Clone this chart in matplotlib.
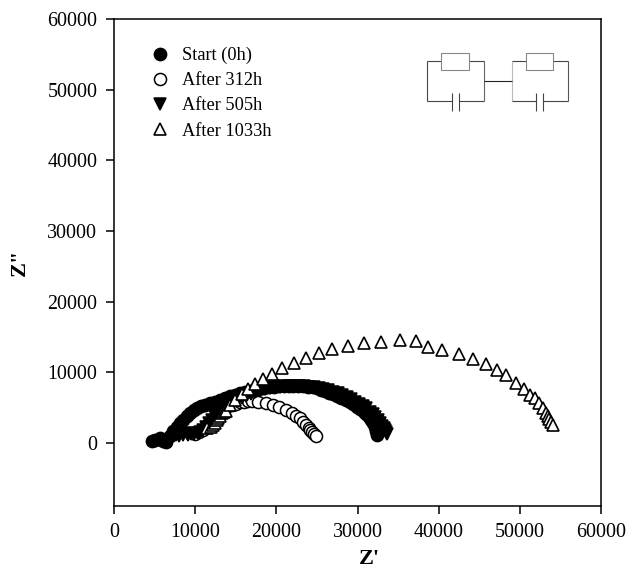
# -*- coding: utf-8 -*-
import matplotlib
matplotlib.use('Agg')
import matplotlib.pyplot as plt

plt.rcParams['font.family'] = ['Liberation Serif', 'DejaVu Serif']

# values
start_x = [4720, 5100, 5670, 6050, 6400, 6900, 7300, 7750, 8150, 8550, 8950, 9360, 9800, 10250, 10700, 11250,
           11830, 12400, 13000, 13650, 14290, 14900, 15500, 16100, 16700, 17300, 17900, 18500, 19100, 19700,
           20300, 20900, 21500, 22100, 22700, 23300, 23900, 24500, 24970, 25500, 26000, 26500, 27020, 27500,
           28000, 28550, 29070, 29500, 29950, 30350, 30750, 31100, 31400, 31700, 31950, 32100, 32250, 32360]
start_y = [240, 420, 660, 300, 100, 1000, 1700, 2300, 2850, 3300, 3800, 4290, 4650, 4950, 5200, 5400,
           5620, 5850, 6100, 6350, 6600, 6850, 7050, 7250, 7400, 7550, 7700, 7800, 7900, 7980,
           8030, 8080, 8100, 8110, 8100, 8060, 8000, 7900, 7750, 7550, 7350, 7130, 6900, 6650,
           6400, 6100, 5800, 5500, 5150, 4800, 4450, 4050, 3650, 3250, 2850, 2300, 1750, 1200]

h312_x = [10000, 10500, 11000, 11500, 12000, 12500, 13000, 13500, 14000, 14500, 15000,
          15500, 16000, 16480, 16960, 17780, 18730, 19550, 20370, 21150, 21890, 22420, 22920, 23330, 23650,
          23990, 24200, 24360, 24650, 24890]
h312_y = [1300, 1500, 1900, 2500, 3050, 3600, 4300, 4850, 5300, 5450, 5600,
          5750, 5850, 5900, 5900, 5800, 5610, 5380, 5050, 4670, 4290, 3860, 3490, 3010, 2550,
          2120, 1850, 1600, 1250, 990]

h505_x = [7600, 8050, 8500, 8950, 9120, 9500, 9900, 10300, 10600, 10950, 11300, 11700, 12100, 12500, 12950, 13400,
          13850, 14300, 14800, 15300, 15800, 16300, 16850, 17400, 18000, 18600, 19200, 19800, 20400, 21000,
          21600, 22200, 22800, 23400, 24000, 24600, 25200, 25800, 26400, 27000, 27550, 28100, 28650, 29200,
          29700, 30200, 30650, 31050, 31500, 31850, 32200, 32550, 32800, 33050, 33250, 33400, 33550, 33600]
h505_y = [1100, 1000, 1200, 1400, 1150, 1300, 1350, 1400, 1500, 1800, 2300, 2800, 3250, 3800, 4300, 4800,
          5100, 5400, 5750, 6100, 6400, 6700, 6950, 7200, 7400, 7600, 7750, 7880, 7980, 8050,
          8100, 8120, 8100, 8050, 7980, 7880, 7780, 7650, 7480, 7280, 7050, 6780, 6500, 6200,
          5880, 5520, 5200, 4950, 4450, 4050, 3650, 3200, 2800, 2450, 2100, 1800, 1500, 1300]

h1033_x = [11500, 11910, 12200, 12440, 12650, 12850, 13050, 13270, 13540, 13800, 14290, 14910, 15770, 16550, 17370, 18400, 19470, 20700,
           22180, 23650, 25260, 26820, 28870, 30840, 32930, 35190, 37250, 38685, 40450, 42470, 44270, 45870,
           47150, 48330, 49490, 50510, 51250, 51830, 52360, 52820, 53180, 53430, 53630, 53840, 54050]
h1033_y = [2120, 2310, 2600, 2830, 3200, 3540, 3900, 4240, 4400, 4570, 5380, 6080, 6930, 7640, 8390, 9100, 9760, 10610,
           11360, 12030, 12730, 13300, 13770, 14100, 14330, 14575, 14480, 13540, 13160, 12590, 11930, 11130,
           10330, 9580, 8450, 7600, 6790, 6370, 5620, 4910, 4290, 3820, 3350, 2970, 2500]

xticks = [0, 10000, 20000, 30000, 40000, 50000, 60000]
yticks = [0, 10000, 20000, 30000, 40000, 50000, 60000]

fig = plt.figure(figsize=(6.28, 5.69), dpi=100)
ax = fig.add_axes([114 / 628, 1 - 506 / 569, 487 / 628, 487 / 569])

ax.plot(start_x, start_y, 'o', ms=8.8, mfc='k', mec='k', mew=1.1, label='Start (0h)', zorder=2)
# the open circles sit under the black bands in the reference
ax.plot(h312_x, h312_y, 'o', ms=8.7, mfc='w', mec='k', mew=1.1, label='After 312h', zorder=1.9)
ax.plot(h505_x, h505_y, 'v', ms=9, mfc='k', mec='k', mew=1.1, label='After 505h', zorder=2)
ax.plot(h1033_x, h1033_y, '^', ms=8.8, mfc='w', mec='k', mew=1.2, label='After 1033h', zorder=2)

ax.set_xlim(0, 60000)
ax.set_ylim(-8900, 60000)
ax.set_xticks(xticks)
ax.set_yticks(yticks)
ax.tick_params(labelsize=14.4, length=5.8, width=1.1, direction='out', pad=6.2, colors='k')
for s in ax.spines.values():
    s.set_linewidth(1.1)
ax.set_xlabel("Z'", fontsize=16, fontweight='bold')
ax.set_ylabel('Z"', fontsize=16, fontweight='bold')
ax.xaxis.set_label_coords(0.525, -0.0885)
ax.yaxis.set_label_coords(-0.1735, 0.5)

ax.legend(loc='upper left', bbox_to_anchor=(0.048, 0.962), frameon=False, fontsize=13.2,
          labelspacing=0.45, handletextpad=0.42, numpoints=1, handlelength=1.5, borderpad=0)

# equivalent circuit, in pixel coordinates of the picture
cx = fig.add_axes([0, 0, 1, 1], facecolor='none')
cx.set_xlim(0, 628)
cx.set_ylim(569, 0)
cx.axis('off')


def wire(xs, ys, c='#444444'):
    cx.plot(xs, ys, color=c, lw=0.8, solid_capstyle='butt')


def loop(x0, x1, b0, b1, c0, c1, left_c, right_c):
    wire([x0, x0], [61.3, 101.3], left_c)
    wire([x1, x1], [61.3, 101.3], right_c)
    wire([x0, b0], [61.3, 61.3])
    wire([b1, x1], [61.3, 61.3])
    wire([x0, c0], [101.3, 101.3])
    wire([c1, x1], [101.3, 101.3])
    wire([c0, c0], [92.7, 110.7])
    wire([c1, c1], [92.7, 110.7])
    wire([b0, b1, b1, b0, b0], [52.7, 52.7, 70, 70, 52.7], '#888888')


loop(427.3, 484, 441.3, 469, 451.7, 459.3, '#444444', '#666666')
loop(511.7, 568.3, 525.7, 553.3, 536, 543.3, '#bbbbbb', '#555555')
wire([484, 511.7], [81, 81], '#222222')

plt.savefig('out.png', dpi=100)
